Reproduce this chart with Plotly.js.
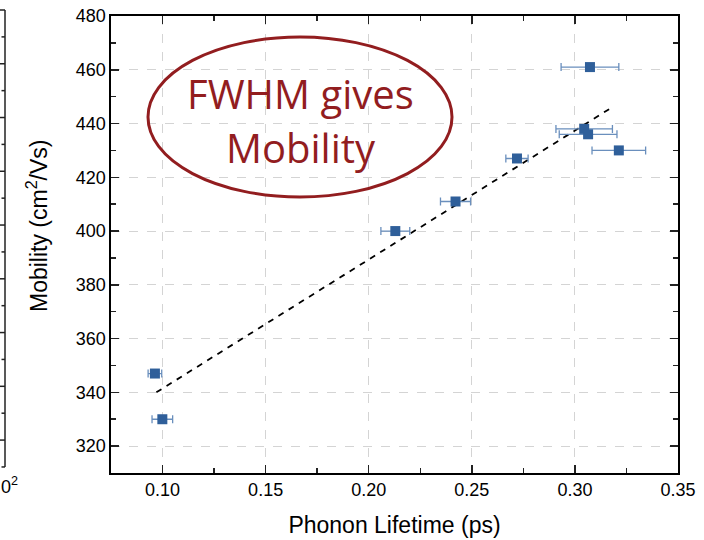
<!DOCTYPE html>
<html>
<head>
<meta charset="utf-8">
<script src="https://cdn.plot.ly/plotly-3.0.1.min.js"></script>
<style>html,body{margin:0;padding:0;background:#fff;}#chart{width:704px;height:540px;}</style>
</head>
<body>
<div id="chart"></div>
<script>
// ---- data ----
var lifetime = [0.3073, 0.3045, 0.3064, 0.3213, 0.2719, 0.2421, 0.2129, 0.0963, 0.0999];
var mobility = [461, 438, 436, 430, 427, 411, 400, 347, 330];
var lifetimeErr = [0.014, 0.0137, 0.014, 0.013, 0.0054, 0.0073, 0.007, 0.0033, 0.005];
var fitX = [0.097, 0.319];
var fitY = [340, 446.5];
var xTitle = 'Phonon Lifetime (ps)';
var yTitle = 'Mobility (cm<sup>2</sup>/Vs)';
var stampLines = ['FWHM gives', 'Mobility'];
var neighbourLabel = '0<sup>2</sup>';

// ---- layout helpers ----
var W = 704, H = 540, ML = 111, MR = 26, MT = 16, MB = 67;
var PW = W - ML - MR, PH = H - MT - MB;
function px(x) { return (x - ML) / PW; }
function py(y) { return (H - MB - y) / PH; }

var red = '#921d1f';
var shapes = [
  {type: 'circle', xref: 'paper', yref: 'paper', x0: px(148), x1: px(452), y0: py(197), y1: py(37),
   line: {color: red, width: 3}, layer: 'above'}
];
// partial neighbour panel on the far left
shapes.push({type: 'line', xref: 'paper', yref: 'paper', x0: px(5), x1: px(5), y0: py(10), y1: py(467),
  line: {color: '#222', width: 1.5}});
for (var i = 0; i < 18; i++) {
  var yy = 10 + i * 26.88;
  shapes.push({type: 'line', xref: 'paper', yref: 'paper', x0: px(i % 2 === 0 ? 0 : 1.5), x1: px(5),
    y0: py(yy), y1: py(yy), line: {color: '#222', width: 1.5}});
}

var fitTrace = {
  x: fitX, y: fitY, mode: 'lines', type: 'scatter',
  line: {color: '#000', width: 1.8, dash: '6px,6px'}, hoverinfo: 'skip', showlegend: false
};
var dataTrace = {
  x: lifetime, y: mobility, mode: 'markers', type: 'scatter',
  marker: {symbol: 'square', size: 10, color: '#2f5f9a'},
  error_x: {type: 'data', array: lifetimeErr, visible: true, color: '#6a8fbd', thickness: 1.3, width: 4},
  showlegend: false
};

var axisCommon = {
  showline: true, linecolor: '#000', linewidth: 1.6, mirror: 'ticks',
  ticks: 'inside', ticklen: 8, tickwidth: 1.5, tickcolor: '#222',
  showgrid: true, gridcolor: '#d4d4d4', gridwidth: 1, griddash: 'dash',
  zeroline: false,
  tickfont: {family: 'Arial, "Liberation Sans", sans-serif', size: 18, color: '#000'}
};

var layout = {
  width: W, height: H,
  margin: {l: ML, r: MR, t: MT, b: MB, pad: 0},
  paper_bgcolor: '#fff', plot_bgcolor: '#fff',
  showlegend: false,
  xaxis: Object.assign({}, axisCommon, {
    range: [0.075, 0.35], tick0: 0, dtick: 0.05, tickformat: '.2f',
    minor: {ticks: 'inside', ticklen: 5, tickwidth: 1.5, tickcolor: '#222', dtick: 0.025, tick0: 0, showgrid: false},
    title: {text: xTitle, font: {family: 'Arial, "Liberation Sans", sans-serif', size: 23, color: '#000'}, standoff: 17}
  }),
  yaxis: Object.assign({}, axisCommon, {
    range: [310, 480], tick0: 0, dtick: 20,
    minor: {ticks: 'inside', ticklen: 5, tickwidth: 1.5, tickcolor: '#222', dtick: 10, tick0: 0, showgrid: false}
  }),
  shapes: shapes,
  annotations: [
    {xref: 'paper', yref: 'paper', x: px(37), y: py(226), text: yTitle, textangle: -90, showarrow: false,
     xanchor: 'center', yanchor: 'middle',
     font: {family: 'Arial, "Liberation Sans", sans-serif', size: 23, color: '#000'}},
    {xref: 'paper', yref: 'paper', x: px(300), y: py(94), text: stampLines[0], showarrow: false,
     xanchor: 'center', yanchor: 'middle', font: {family: '"Open Sans", sans-serif', size: 40, color: red}},
    {xref: 'paper', yref: 'paper', x: px(301), y: py(148), text: stampLines[1], showarrow: false,
     xanchor: 'center', yanchor: 'middle', font: {family: '"Open Sans", sans-serif', size: 40, color: red}},
    {xref: 'paper', yref: 'paper', x: px(0), y: py(485), text: neighbourLabel, showarrow: false,
     xanchor: 'left', yanchor: 'middle', borderpad: 0,
     font: {family: 'Arial, "Liberation Sans", sans-serif', size: 18, color: '#000'}}
  ]
};

Plotly.newPlot('chart', [fitTrace, dataTrace], layout, {staticPlot: true, displayModeBar: false});
</script>
</body>
</html>
